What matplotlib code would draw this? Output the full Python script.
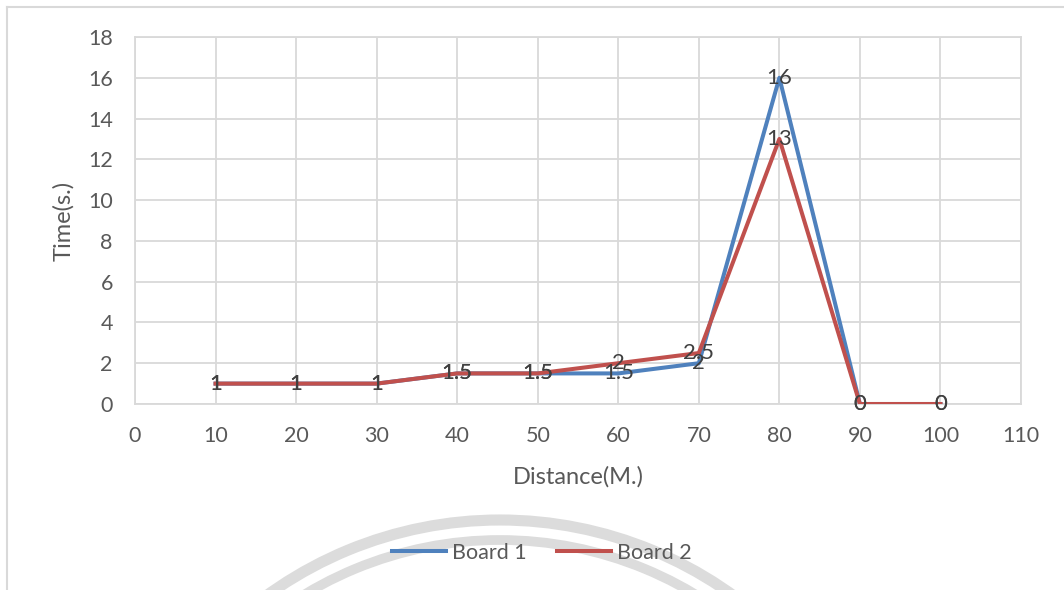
import matplotlib.pyplot as plt
from matplotlib.patches import Arc
from matplotlib.lines import Line2D

distance = [10, 20, 30, 40, 50, 60, 70, 80, 90, 100]
board1 = [1, 1, 1, 1.5, 1.5, 1.5, 2, 16, 0, 0]
board2 = [1, 1, 1, 1.5, 1.5, 2, 2.5, 13, 0, 0]
x_ticks = list(range(0, 111, 10))
y_ticks = list(range(0, 19, 2))

plt.rcParams['font.family'] = ['Lato', 'DejaVu Sans']

W, H = 1064, 590
fig = plt.figure(figsize=(W / 100, H / 100), dpi=100)
ax = fig.add_axes([135 / W, 1 - 404 / H, (1021 - 135) / W, (404 - 37) / H])

grid_c = '#d9d9d9'
text_c = '#595959'
blue = '#4f81bd'
red = '#c0504d'

ax.plot(distance, board1, color=blue, lw=2.9, solid_joinstyle='round', zorder=3)
ax.plot(distance, board2, color=red, lw=2.9, solid_joinstyle='round', zorder=4)

# data labels sit centred on the points, as in the source
for x, y in zip(distance, board1):
    ax.text(x, y, f'{y:g}', ha='center', va='center', fontsize=16, color='#404040', zorder=5)
for x, y in zip(distance, board2):
    ax.text(x, y, f'{y:g}', ha='center', va='center', fontsize=16, color='#404040', zorder=5)

ax.set_xlim(0, 110)
ax.set_ylim(0, 18)
ax.set_xticks(x_ticks)
ax.set_yticks(y_ticks)
ax.grid(True, color=grid_c, lw=1.3)
ax.set_axisbelow(True)
for s in ax.spines.values():
    s.set_color(grid_c)
    s.set_linewidth(1.3)
ax.tick_params(length=0, labelsize=15.5, labelcolor=text_c, pad=16)
ax.set_xlabel('Distance(M.)', fontsize=17, color=text_c, labelpad=14)
ax.set_ylabel('Time(s.)', fontsize=17, color=text_c, labelpad=10)

# legend
handles = [Line2D([], [], color=blue, lw=2.9), Line2D([], [], color=red, lw=2.9)]
fig.legend(handles, ['Board 1', 'Board 2'], loc='center', bbox_to_anchor=(542 / W, 1 - 553 / H),
           ncol=2, frameon=False, fontsize=15.5, handlelength=2.5, handletextpad=0.3,
           columnspacing=1.4, labelcolor=text_c)

# outer frame (top and left edges)
fig.add_artist(Line2D([7 / W, 7 / W], [0, 1 - 7 / H], color='#d9d9d9', lw=1.5))
fig.add_artist(Line2D([7 / W, 1], [1 - 7 / H, 1 - 7 / H], color='#d9d9d9', lw=1.5))

# faint watermark arcs behind the legend
ov = fig.add_axes([0, 0, 1, 1], zorder=-1)
ov.set_xlim(0, W)
ov.set_ylim(H, 0)
ov.axis('off')
ov.add_patch(Arc((500, 918), 2 * 398, 2 * 398, color='#dcdcdc', lw=8))
ov.add_patch(Arc((500, 918), 2 * 378, 2 * 378, color='#dcdcdc', lw=7))

fig.savefig('out.png', dpi=100)
